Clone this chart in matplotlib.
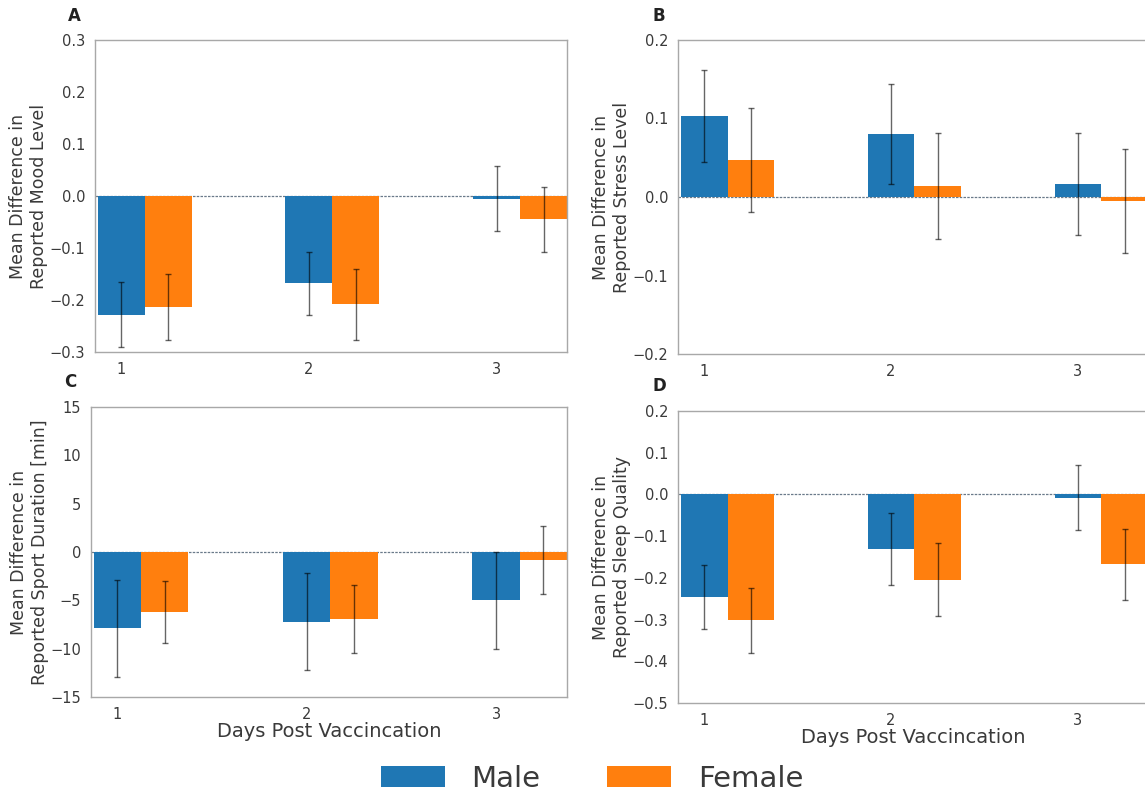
import matplotlib
matplotlib.use("Agg")
import matplotlib.pyplot as plt
import numpy as np

days = [1, 2, 3]

# panel A: mood
mood_male = [-0.228, -0.168, -0.005]
mood_male_err = [0.063, 0.060, 0.062]
mood_female = [-0.213, -0.208, -0.045]
mood_female_err = [0.063, 0.068, 0.063]

# panel B: stress
stress_male = [0.103, 0.080, 0.017]
stress_male_err = [0.059, 0.064, 0.065]
stress_female = [0.047, 0.014, -0.005]
stress_female_err = [0.066, 0.068, 0.066]

# panel C: sport duration
sport_male = [-7.9, -7.2, -5.0]
sport_male_err = [5.0, 5.0, 5.0]
sport_female = [-6.2, -6.9, -0.8]
sport_female_err = [3.2, 3.5, 3.5]

# panel D: sleep quality
sleep_male = [-0.245, -0.130, -0.008]
sleep_male_err = [0.077, 0.086, 0.078]
sleep_female = [-0.302, -0.204, -0.167]
sleep_female_err = [0.078, 0.087, 0.085]

ylabels = ["Mean Difference in\nReported Mood Level",
           "Mean Difference in\nReported Stress Level",
           "Mean Difference in\nReported Sport Duration [min]",
           "Mean Difference in\nReported Sleep Quality"]
ylims = [(-0.3, 0.3), (-0.2, 0.2), (-15, 15), (-0.5, 0.2)]
yticks = [np.arange(-0.3, 0.31, 0.1), np.arange(-0.2, 0.21, 0.1),
          np.arange(-15, 16, 5), np.arange(-0.5, 0.21, 0.1)]
letters = ["A", "B", "C", "D"]

blue = "#1f77b4"
orange = "#ff7f0e"
txt = "#3a3a3a"
w = 0.25

fig = plt.figure(figsize=(11.45, 7.96), dpi=100)
W, H = 1145, 796
# pixel boxes: left, right, top, bottom
boxes = [(95, 567, 40, 352), (678, 1148, 40, 354),
         (91, 567, 407, 697), (678, 1148, 411, 703)]
letter_pos = [(68, 16), (652, 16), (64, 382), (652, 386)]

data = [(mood_male, mood_male_err, mood_female, mood_female_err),
        (stress_male, stress_male_err, stress_female, stress_female_err),
        (sport_male, sport_male_err, sport_female, sport_female_err),
        (sleep_male, sleep_male_err, sleep_female, sleep_female_err)]

x = np.array(days, dtype=float)
for i, (m, me, f, fe) in enumerate(data):
    l, r, t, b = boxes[i]
    ax = fig.add_axes([l / W, 1 - b / H, (r - l) / W, (b - t) / H])
    hm = ax.bar(x, m, w, color=blue, label="Male")
    hf = ax.bar(x + w, f, w, color=orange, label="Female")
    ax.errorbar(x, m, yerr=me, fmt="none", ecolor="black", alpha=0.6,
                elinewidth=1, capsize=2.5)
    ax.errorbar(x + w, f, yerr=fe, fmt="none", ecolor="black", alpha=0.6,
                elinewidth=1, capsize=2.5)
    ax.axhline(0, color="#6a7a8a", lw=0.9, ls=(0, (2, 1)), zorder=0.5)
    ax.set_xlim(0.86, 3.375)
    ax.set_ylim(*ylims[i])
    ax.set_yticks(yticks[i])
    if i == 2:
        ax.set_yticklabels(["\u2212%d" % abs(v) if v < 0 else "%d" % v for v in yticks[i]])
    else:
        ax.set_yticklabels(["\u2212%.1f" % abs(v) if v < -1e-9 else "%.1f" % abs(v) for v in yticks[i]])
    ax.set_xticks(days)
    ax.tick_params(length=0, labelsize=10.5, colors=txt, pad=7)
    for s in ax.spines.values():
        s.set_color("#a8a8a8")
        s.set_linewidth(1.0)
    ax.set_ylabel(ylabels[i], fontsize=12.5, color=txt, labelpad=1)
    if i >= 2:
        ax.set_xlabel("Days Post Vaccincation", fontsize=14, color=txt, labelpad=0)
    fig.text(letter_pos[i][0] / W, 1 - letter_pos[i][1] / H, letters[i],
             fontsize=12, fontweight="bold", color="#222222", va="center")

fig.legend([hm, hf], ["Male", "Female"], loc="center", ncol=2,
           bbox_to_anchor=(0.517, 1 - 779 / H), frameon=False, fontsize=21,
           handlelength=2.2, handleheight=0.72, handletextpad=0.9,
           columnspacing=2.3, labelcolor=txt)

fig.savefig("out.png", dpi=100)
